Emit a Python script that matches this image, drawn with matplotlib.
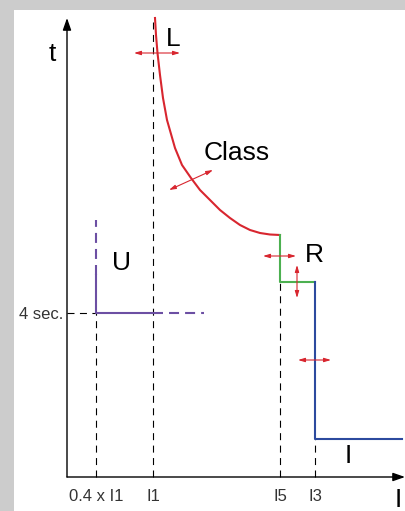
import matplotlib
matplotlib.use('Agg')
import matplotlib.pyplot as plt
from matplotlib.patches import Rectangle

plt.rcParams['font.family'] = ['Liberation Sans', 'DejaVu Sans']

# schematic time-current characteristic, units measured from the axis origin
AX_X_END = 338
AX_Y_END = 459

TICK_POS = [29, 86, 213, 248]
TICK_LABELS = ['0.4 x I1', 'I1', 'I5', 'I3']
T_4SEC = 164

# long-time (L) red curve
curve_x = [88, 89, 90.5, 93, 96, 100, 108, 115, 124, 133, 145, 153, 163, 173, 183, 193, 203, 213]
curve_y = [459, 442, 424, 402, 379, 357, 329, 312, 299, 287, 275, 267, 259, 252, 247, 244, 242.5, 242]

# short-time (R) green step
green_x = [213, 213, 248]
green_y = [242, 195, 195]

# instantaneous (I) blue step
blue_x = [248, 248, 335]
blue_y = [195, 38, 38]

# ground-fault (U) purple
u_solid_x = [29, 29, 86]
u_solid_y = [202, 164, 164]
u_dash_vx = [29, 29]
u_dash_vy = [202, 257]
u_dash_hx = [86, 137]
u_dash_hy = [164, 164]

# black dashed guides: (x0, y0, x1, y1)
guides = [(0, 164, 29, 164), (29, 0, 29, 164), (86, 0, 86, 460),
          (213, 0, 213, 195), (248, 0, 248, 38)]

# red adjustment arrows
adj_arrows = [((67, 424), (113, 424)), ((102, 287), (146, 307)),
              ((196, 221), (229, 221)), ((230, 212), (230, 179)),
              ((231, 117), (264, 117))]

labels = [('t', -15, 423), ('L', 106, 438), ('Class', 170, 324), ('U', 55, 214),
          ('R', 247, 222), ('I', 281, 21), ('I', 331, -23)]

RED = '#d8262f'
GREEN = '#4cb050'
BLUE = '#2c4a9e'
PURPLE = '#6c4fa3'

fig = plt.figure(figsize=(4.05, 5.11), dpi=100, facecolor='#cccccc')
ax = fig.add_axes([0, 0, 1, 1])
ax.set_xlim(-67, 338)
ax.set_ylim(-34, 477)
ax.axis('off')
ax.add_patch(Rectangle((-53, -40), 400, 507, facecolor='white', edgecolor='none', zorder=0))

# axes with arrow heads
for end in [(AX_X_END, 0), (0, AX_Y_END)]:
    ax.annotate('', xy=end, xytext=(0, 0),
                arrowprops=dict(arrowstyle='-|>,head_length=1.0,head_width=0.35',
                                mutation_scale=7.2, color='black', lw=1.0,
                                shrinkA=0, shrinkB=0))

for x0, y0, x1, y1 in guides:
    ax.plot([x0, x1], [y0, y1], color='black', lw=0.8, dashes=(6.3, 4.9))

ax.plot(curve_x, curve_y, color=RED, lw=1.5, solid_joinstyle='round')
ax.plot(green_x, green_y, color=GREEN, lw=1.5)
ax.plot(blue_x, blue_y, color=BLUE, lw=1.5)
ax.plot(u_solid_x, u_solid_y, color=PURPLE, lw=1.5)
ax.plot(u_dash_vx, u_dash_vy, color=PURPLE, lw=1.5, dashes=(4.8, 2.9))
ax.plot(u_dash_hx, u_dash_hy, color=PURPLE, lw=1.5, dashes=(4.8, 2.9))

for a, b in adj_arrows:
    ax.annotate('', xy=b, xytext=a,
                arrowprops=dict(arrowstyle='<|-|>,head_length=1.0,head_width=0.3',
                                mutation_scale=4, color=RED, lw=0.8,
                                shrinkA=0, shrinkB=0))

for txt, x, y in labels:
    ax.text(x, y, txt, fontsize=19, ha='center', va='center', color='black')

for x, lab in zip(TICK_POS, TICK_LABELS):
    ax.text(x, -19, lab, fontsize=12, ha='center', va='center', color='#333333')
ax.text(-4, 163, '4 sec.', fontsize=12, ha='right', va='center', color='#333333')

fig.savefig('out.png', dpi=100, facecolor=fig.get_facecolor())
